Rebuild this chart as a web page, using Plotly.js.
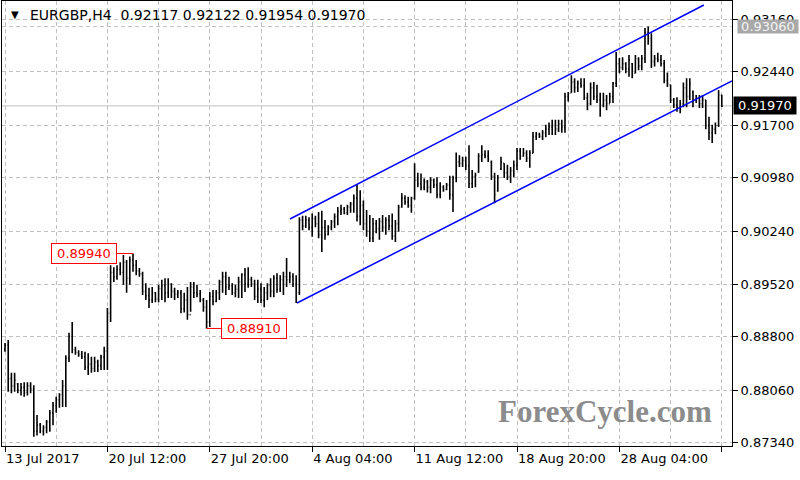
<!DOCTYPE html>
<html>
<head>
<meta charset="utf-8">
<script src="https://cdn.plot.ly/plotly-3.0.1.min.js"></script>
<style>html,body{margin:0;padding:0;background:#fff;}#chart{width:800px;height:480px;}</style>
</head>
<body>
<div id="chart"></div>
<script>
// ---- data (EURGBP H4) ----
const open = [
 .8862,.8868,.8822,.8812,.8815,.8806,.8810,.8803,.8812,.8808,
 .8750,.8758,.8750,.8755,.8762,.8775,.8785,.8793,.8800,.8812,
 .8850,.8880,.8862,.8858,.8855,.8852,.8838,.8842,.8836,.8845,
 .8840,.8852,.8860,.8912,.8968,.8962,.8972,.8968,.8982,.8960,
 .8985,.8978,.8970,.8966,.8942,.8936,.8930,.8940,.8932,.8946,
 .8950,.8940,.8952,.8942,.8938,.8940,.8918,.8930,.8910,.8948,
 .8940,.8938,.8930,.8920,.8900,.8935,.8928,.8940,.8955,.8962,
 .8948,.8950,.8940,.8945,.8955,.8965,.8952,.8958,.8952,.8935,
 .8945,.8930,.8940,.8950,.8942,.8960,.8945,.8958,.8962,.8958,
 .8962,.8952,.8940,.9040,.9032,.9040,.9030,.9042,.9035,.9020,
 .9030,.9020,.9030,.9038,.9045,.9052,.9055,.9050,.9058,.9062,
 .9070,.9045,.9060,.9035,.9025,.9015,.9035,.9028,.9038,.9030,
 .9040,.9032,.9018,.9035,.9058,.9070,.9065,.9060,.9070,.9095,
 .9090,.9085,.9092,.9085,.9095,.9088,.9075,.9085,.9082,.9088,
 .9075,.9098,.9120,.9118,.9122,.9115,.9090,.9100,.9106,.9128,
 .9130,.9128,.9120,.9100,.9080,.9110,.9118,.9105,.9100,.9108,
 .9115,.9135,.9128,.9132,.9125,.9132,.9155,.9158,.9155,.9160,
 .9165,.9168,.9170,.9165,.9172,.9168,.9210,.9215,.9230,.9222,
 .9228,.9225,.9208,.9200,.9222,.9210,.9205,.9198,.9205,.9200,
 .9210,.9228,.9255,.9250,.9255,.9248,.9255,.9242,.9262,.9252,
 .9262,.9298,.9290,.9258,.9262,.9260,.9255,.9232,.9226,.9205,
 .9198,.9195,.9200,.9222,.9210,.9216,.9205,.9208,.9200,.9205,
 .9170,.9160,.9165,.9170,.92117];
const high = [
 .8871,.8875,.8830,.8830,.8816,.8816,.8817,.8817,.8817,.8813,
 .8772,.8761,.8758,.8765,.8779,.8790,.8797,.8802,.8820,.8854,
 .8885,.8900,.8866,.8861,.8860,.8859,.8857,.8852,.8852,.8848,
 .8855,.8866,.8919,.8978,.8975,.8978,.8982,.8992,.8985,.8990,
 .8994,.8985,.8974,.8969,.8953,.8947,.8948,.8941,.8951,.8958,
 .8960,.8960,.8953,.8947,.8944,.8944,.8940,.8948,.8955,.8955,
 .8951,.8944,.8933,.8930,.8941,.8944,.8944,.8958,.8969,.8969,
 .8962,.8953,.8951,.8962,.8967,.8974,.8975,.8962,.8958,.8958,
 .8953,.8948,.8953,.8960,.8964,.8967,.8964,.8969,.8988,.8969,
 .8967,.8964,.9044,.9046,.9046,.9044,.9049,.9046,.9051,.9053,
 .9040,.9033,.9040,.9049,.9058,.9061,.9058,.9061,.9065,.9075,
 .9089,.9081,.9067,.9054,.9047,.9043,.9040,.9043,.9047,.9044,
 .9047,.9049,.9040,.9061,.9077,.9074,.9072,.9072,.9118,.9105,
 .9104,.9097,.9095,.9099,.9097,.9099,.9092,.9088,.9091,.9101,
 .9101,.9133,.9129,.9127,.9127,.9143,.9109,.9105,.9132,.9143,
 .9136,.9136,.9122,.9105,.9102,.9127,.9118,.9116,.9113,.9122,
 .9139,.9139,.9139,.9136,.9136,.9161,.9161,.9160,.9164,.9171,
 .9174,.9178,.9178,.9178,.9178,.9215,.9216,.9239,.9235,.9232,
 .9235,.9235,.9215,.9229,.9230,.9226,.9215,.9215,.9212,.9215,
 .9230,.9271,.9263,.9264,.9257,.9267,.9256,.9267,.9264,.9267,
 .9304,.9306,.9297,.9267,.9270,.9267,.9260,.9243,.9226,.9208,
 .9209,.9205,.9229,.9235,.9235,.9218,.9212,.9212,.9212,.9205,
 .9182,.9171,.9174,.9219,.92122];
const low = [
 .8859,.8804,.8802,.8804,.8802,.8799,.8797,.8799,.8802,.8742,
 .8744,.8747,.8744,.8747,.8749,.8758,.8775,.8782,.8783,.8783,
 .8845,.8857,.8855,.8852,.8849,.8834,.8827,.8830,.8831,.8831,
 .8834,.8834,.8834,.8900,.8955,.8958,.8964,.8951,.8940,.8951,
 .8969,.8964,.8962,.8937,.8930,.8919,.8926,.8927,.8927,.8930,
 .8927,.8933,.8933,.8930,.8933,.8912,.8913,.8903,.8914,.8933,
 .8934,.8927,.8914,.8891,.8893,.8923,.8927,.8930,.8940,.8937,
 .8944,.8937,.8934,.8933,.8933,.8941,.8947,.8948,.8930,.8926,
 .8926,.8920,.8930,.8934,.8934,.8940,.8941,.8937,.8948,.8953,
 .8948,.8926,.8937,.9026,.9029,.9026,.9017,.9030,.9015,.8996,
 .9013,.9019,.9026,.9029,.9033,.9047,.9048,.9047,.9050,.9050,
 .9038,.9033,.9026,.9017,.9010,.9010,.9022,.9013,.9024,.9020,
 .9026,.9013,.9010,.9024,.9057,.9061,.9057,.9050,.9068,.9085,
 .9081,.9081,.9078,.9077,.9084,.9070,.9070,.9079,.9081,.9068,
 .9051,.9092,.9113,.9113,.9109,.9084,.9084,.9085,.9105,.9120,
 .9125,.9120,.9095,.9063,.9079,.9109,.9098,.9095,.9091,.9099,
 .9109,.9123,.9127,.9120,.9112,.9132,.9150,.9153,.9150,.9154,
 .9157,.9157,.9157,.9161,.9160,.9160,.9203,.9215,.9215,.9216,
 .9222,.9205,.9191,.9198,.9205,.9201,.9182,.9195,.9191,.9201,
 .9201,.9223,.9242,.9246,.9242,.9237,.9235,.9242,.9246,.9246,
 .9256,.9281,.9249,.9251,.9257,.9251,.9228,.9223,.9201,.9194,
 .9189,.9187,.9195,.9195,.9205,.9195,.9201,.9194,.9194,.9165,
 .9150,.9146,.9158,.9168,.91954];
const close = [
 .8868,.8822,.8812,.8820,.8806,.8810,.8803,.8812,.8808,.8750,
 .8758,.8750,.8755,.8762,.8775,.8785,.8793,.8800,.8812,.8850,
 .8880,.8862,.8858,.8855,.8852,.8838,.8842,.8836,.8845,.8840,
 .8852,.8860,.8912,.8968,.8962,.8972,.8968,.8982,.8960,.8985,
 .8978,.8970,.8966,.8942,.8936,.8930,.8940,.8932,.8946,.8950,
 .8940,.8952,.8942,.8938,.8940,.8918,.8930,.8910,.8948,.8940,
 .8938,.8930,.8920,.8900,.8935,.8928,.8940,.8955,.8962,.8948,
 .8950,.8940,.8945,.8955,.8965,.8952,.8958,.8952,.8935,.8945,
 .8930,.8940,.8950,.8942,.8960,.8945,.8958,.8962,.8958,.8962,
 .8952,.8940,.9040,.9032,.9040,.9030,.9042,.9035,.9020,.9030,
 .9020,.9030,.9038,.9045,.9052,.9055,.9050,.9058,.9062,.9070,
 .9045,.9060,.9035,.9025,.9015,.9035,.9028,.9038,.9030,.9040,
 .9032,.9018,.9035,.9058,.9070,.9065,.9060,.9070,.9095,.9090,
 .9085,.9092,.9085,.9095,.9088,.9075,.9085,.9082,.9088,.9075,
 .9098,.9120,.9118,.9122,.9115,.9090,.9100,.9102,.9128,.9130,
 .9128,.9124,.9100,.9075,.9098,.9120,.9105,.9100,.9108,.9115,
 .9135,.9128,.9132,.9125,.9132,.9155,.9158,.9155,.9160,.9165,
 .9168,.9170,.9165,.9172,.9168,.9210,.9214,.9230,.9222,.9228,
 .9225,.9208,.9200,.9222,.9210,.9205,.9198,.9205,.9200,.9210,
 .9228,.9255,.9250,.9255,.9248,.9260,.9240,.9262,.9252,.9262,
 .9298,.9290,.9258,.9262,.9260,.9255,.9232,.9228,.9205,.9198,
 .9195,.9200,.9222,.9210,.9228,.9205,.9208,.9200,.9205,.9170,
 .9160,.9165,.9170,.9212,.91970];

// x-axis labels (every 32 bars) and price ticks
const xTickBars = [0, 32, 64, 96, 128, 160, 192, 224];
const xTickText = ["13 Jul 2017", "20 Jul 12:00", "27 Jul 20:00", "4 Aug 04:00",
                   "11 Aug 12:00", "18 Aug 20:00", "28 Aug 04:00", "4 Sep 12:00"];
const xGridBars = [16, 48, 80, 112, 144, 176, 208];
const yTicks = [0.87340, 0.88060, 0.88800, 0.89520, 0.90240, 0.90980, 0.91700, 0.92440, 0.93160];

// channel (trend lines) endpoints: [bar index], [price]
const upperX = [89.06, 218.4], upperY = [0.90415, 0.93357];
const lowerX = [91.25, 227.2], lowerY = [0.8926, 0.92312];

// marked levels
const swingHigh = {bar: 40, price: 0.89940, label: "0.89940"};
const swingLow  = {bar: 63, price: 0.88910, label: "0.88910"};
const bidPrice = 0.91970;
const hLinePrice = 0.93060;
const header = {symbol: "EURGBP,H4", o: "0.92117", h: "0.92122", l: "0.91954", c: "0.91970"};

// ---- drawing ----
const idx = open.map((_, i) => i);
const FONT = "DejaVu Sans";
const px2x = p => (p - 2) / 730;      // pixel -> paper x
const py2y = p => (446 - p) / 445;    // pixel -> paper y

const traces = [
  {
    type: 'ohlc', x: idx, open: open, high: high, low: low, close: close,
    increasing: {line: {color: '#000000', width: 1.6}},
    decreasing: {line: {color: '#000000', width: 1.6}},
    tickwidth: 0.3, hoverinfo: 'skip', showlegend: false
  },
  {type: 'scatter', mode: 'lines', x: upperX, y: upperY,
   line: {color: '#0000ff', width: 1.5}, hoverinfo: 'skip', showlegend: false},
  {type: 'scatter', mode: 'lines', x: lowerX, y: lowerY,
   line: {color: '#0000ff', width: 1.5}, hoverinfo: 'skip', showlegend: false}
];

const gridStyle = {gridcolor: '#c0c0c0', gridwidth: 1, griddash: '4px,3px'};

const layout = {
  width: 800, height: 480,
  margin: {l: 2, r: 68, t: 1, b: 34, pad: 0},
  paper_bgcolor: '#ffffff', plot_bgcolor: '#ffffff',
  showlegend: false,
  font: {family: FONT, size: 13, color: '#000'},
  xaxis: Object.assign({
    range: [-0.94, 227.19],
    tickmode: 'array', tickvals: xTickBars, ticktext: xTickText,
    ticks: 'outside', ticklen: 5, tickwidth: 1, tickcolor: '#000',
    ticklabelposition: 'outside right',
    tickfont: {family: FONT, size: 13, color: '#000'},
    showgrid: true, zeroline: false,
    showline: true, linecolor: '#000', linewidth: 1, mirror: true,
    rangeslider: {visible: false}, fixedrange: true,
    minor: Object.assign({tickmode: 'array', tickvals: xGridBars, showgrid: true, ticks: ''}, gridStyle)
  }, gridStyle),
  yaxis: Object.assign({
    side: 'right',
    range: [0.87294, 0.93412],
    tickmode: 'array', tickvals: yTicks, ticktext: yTicks.map(v => v.toFixed(5)),
    ticks: 'outside', ticklen: 5, tickwidth: 1, tickcolor: '#000',
    tickfont: {family: FONT, size: 13, color: '#000'},
    showgrid: true, zeroline: false,
    showline: true, linecolor: '#000', linewidth: 1, mirror: true,
    fixedrange: true
  }, gridStyle),
  shapes: [
    {type: 'line', xref: 'paper', yref: 'y', x0: 0, x1: 1, y0: hLinePrice, y1: hLinePrice,
     line: {color: '#c0c0c0', width: 1, dash: '4px,3px'}, layer: 'below'},
    {type: 'line', xref: 'paper', yref: 'y', x0: 0, x1: 1, y0: bidPrice, y1: bidPrice,
     line: {color: '#c0c0c0', width: 1}, layer: 'below'},
    {type: 'line', xref: 'x', yref: 'y', x0: 35, x1: swingHigh.bar, y0: swingHigh.price, y1: swingHigh.price,
     line: {color: '#ff0000', width: 1}},
    {type: 'line', xref: 'x', yref: 'y', x0: swingLow.bar, x1: 67.5, y0: swingLow.price, y1: swingLow.price,
     line: {color: '#ff0000', width: 1}}
  ],
  annotations: [
    {xref: 'paper', yref: 'paper', x: px2x(9), y: py2y(14), xanchor: 'left', yanchor: 'middle',
     showarrow: false, text: '▼', font: {family: FONT, size: 10, color: '#000'}},
    {xref: 'paper', yref: 'paper', x: px2x(28), y: py2y(15), xanchor: 'left', yanchor: 'middle',
     showarrow: false, align: 'left',
     text: header.symbol + '\u00a0\u00a0' + [header.o, header.h, header.l, header.c].join(' '),
     font: {family: FONT, size: 14, color: '#000'}},
    {xref: 'x', yref: 'y', x: 35, y: swingHigh.price, xanchor: 'right', yanchor: 'middle',
     showarrow: false, text: swingHigh.label, bgcolor: '#ffffff', bordercolor: '#ff0000',
     borderwidth: 1, borderpad: 2, width: 60, height: 15,
     font: {family: FONT, size: 13, color: '#ff0000'}},
    {xref: 'x', yref: 'y', x: 67.5, y: swingLow.price, xanchor: 'left', yanchor: 'middle',
     showarrow: false, text: swingLow.label, bgcolor: '#ffffff', bordercolor: '#ff0000',
     borderwidth: 1, borderpad: 2, width: 60, height: 15,
     font: {family: FONT, size: 13, color: '#ff0000'}},
    {xref: 'paper', yref: 'y', x: 1, y: bidPrice, xanchor: 'left', yanchor: 'middle', xshift: 1,
     showarrow: false, text: bidPrice.toFixed(5), bgcolor: '#000000', borderpad: 1,
     width: 60, height: 15,
     font: {family: FONT, size: 13, color: '#ffffff'}},
    {xref: 'paper', yref: 'y', x: 1, y: hLinePrice, xanchor: 'left', yanchor: 'middle', xshift: 5,
     showarrow: false, text: hLinePrice.toFixed(5), bgcolor: '#a8a8a8', borderpad: 0,
     width: 60, height: 13,
     font: {family: FONT, size: 13, color: '#f4f4f4'}},
    {xref: 'paper', yref: 'paper', x: px2x(605), y: py2y(411), xanchor: 'center', yanchor: 'middle',
     showarrow: false, text: '<b>ForexCycle.com</b>',
     font: {family: 'Liberation Serif', size: 31, color: '#8c8c8c'}}
  ]
};

Plotly.newPlot('chart', traces, layout, {staticPlot: true, displayModeBar: false});
</script>
</body>
</html>
